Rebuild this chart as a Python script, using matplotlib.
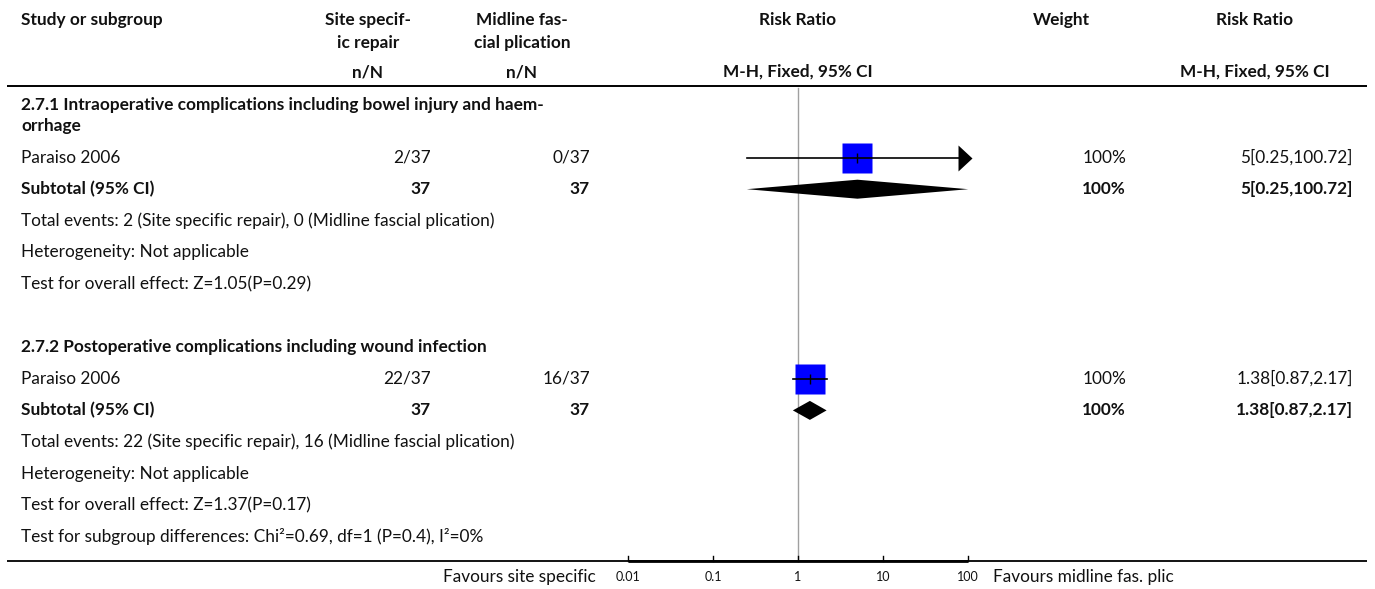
import matplotlib.pyplot as plt

plt.rcParams['font.family'] = ['Lato', 'DejaVu Sans']

# subgroup data
group_titles = [
    ["2.7.1 Intraoperative complications including bowel injury and haem-", "orrhage"],
    ["2.7.2 Postoperative complications including wound infection"],
]
study_names = ["Paraiso 2006", "Paraiso 2006"]
site_events = ["2/37", "22/37"]
midline_events = ["0/37", "16/37"]
site_total = [37, 37]
midline_total = [37, 37]
rr = [5, 1.38]
rr_lo = [0.25, 0.87]
rr_hi = [100.72, 2.17]
weights = ["100%", "100%"]
total_events = [
    "Total events: 2 (Site specific repair), 0 (Midline fascial plication)",
    "Total events: 22 (Site specific repair), 16 (Midline fascial plication)",
]
heterogeneity = ["Heterogeneity: Not applicable", "Heterogeneity: Not applicable"]
overall_effect = ["Test for overall effect: Z=1.05(P=0.29)",
                  "Test for overall effect: Z=1.37(P=0.17)"]
subgroup_test = "Test for subgroup differences: Chi\u00b2=0.69, df=1 (P=0.4), I\u00b2=0%"
ticks = [0.01, 0.1, 1, 10, 100]
tick_labels = ["0.01", "0.1", "1", "10", "100"]

W, H = 1375, 589
fig = plt.figure(figsize=(W / 100, H / 100), dpi=100)
ax = fig.add_axes([0, 0, 1, 1])
ax.set_xlim(0, W)
ax.set_ylim(H, 0)
ax.axis('off')

# forest panel: log scale from 0.01 to 100
x0, x1 = 628, 968
fa = fig.add_axes([x0 / W, 0, (x1 - x0) / W, 1])
fa.set_xscale('log')
fa.set_xlim(0.01, 100)
fa.set_ylim(H, 0)
fa.axis('off')

fs = 12.4
tc = '#111111'
col_left = 21
col_site_c, col_site_r = 368, 431
col_mid_c, col_mid_r = 522, 590
col_w_c, col_w_r = 1061, 1126
col_rr_c, col_rr_r = 1255, 1353

# header
hy1, hy2, hy3 = 20, 43, 72
bold = dict(fontsize=fs, weight='bold', color=tc, va='center')
ax.text(col_left, hy1, "Study or subgroup", **bold)
ax.text(col_site_c, hy1, "Site specif-", ha='center', **bold)
ax.text(col_site_c, hy2, "ic repair", ha='center', **bold)
ax.text(col_mid_c, hy1, "Midline fas-", ha='center', **bold)
ax.text(col_mid_c, hy2, "cial plication", ha='center', **bold)
ax.text(col_site_c, hy3, "n/N", ha='center', **bold)
ax.text(col_mid_c, hy3, "n/N", ha='center', **bold)
ax.text(798, hy1, "Risk Ratio", ha='center', **bold)
ax.text(798, hy3, "M-H, Fixed, 95% CI", ha='center', **bold)
ax.text(col_w_c, hy1, "Weight", ha='center', **bold)
ax.text(col_rr_c, hy1, "Risk Ratio", ha='center', **bold)
ax.text(col_rr_c, hy3, "M-H, Fixed, 95% CI", ha='center', **bold)
ax.plot([7, 1367], [86, 86], color='black', lw=1.4, solid_capstyle='butt')

# line of no effect
fa.plot([1, 1], [88, 561], color='#a0a0a0', lw=1, zorder=1)

step = 31.6
y = 105
for g in range(len(group_titles)):
    for k, line in enumerate(group_titles[g]):
        ax.text(col_left, y + 21 * k, line, **bold)
    y += step + 21 * (len(group_titles[g]) - 1)

    # study row
    ax.text(col_left, y, study_names[g], fontsize=fs, color=tc, va='center')
    ax.text(col_site_r, y, site_events[g], fontsize=fs, color=tc, va='center', ha='right')
    ax.text(col_mid_r, y, midline_events[g], fontsize=fs, color=tc, va='center', ha='right')
    ax.text(col_w_r, y, weights[g], fontsize=fs, color=tc, va='center', ha='right')
    ax.text(col_rr_r, y, f"{rr[g]:g}[{rr_lo[g]:g},{rr_hi[g]:g}]", fontsize=fs, color=tc,
            va='center', ha='right')
    hi = min(rr_hi[g], 100)
    fa.plot(rr[g], y, marker='s', ms=22.3, color='#0000ff', mec='none', zorder=2, clip_on=False)
    fa.plot([rr_lo[g], hi], [y, y], color='black', lw=1.2, zorder=3, clip_on=False)
    fa.plot(rr[g], y, marker='|', ms=7, mew=1, color='black', zorder=3, clip_on=False)
    if rr_hi[g] > 100:
        fa.plot(hi, y, marker=[(4, 0), (-10, 13), (-10, -13), (4, 0)], ms=18.7,
                color='black', mec='none', zorder=3, clip_on=False)
    y += step

    # subtotal row
    ax.text(col_left, y, "Subtotal (95% CI)", **bold)
    ax.text(col_site_r, y, str(site_total[g]), ha='right', **bold)
    ax.text(col_mid_r, y, str(midline_total[g]), ha='right', **bold)
    ax.text(col_w_r, y, weights[g], ha='right', **bold)
    ax.text(col_rr_r, y, f"{rr[g]:g}[{rr_lo[g]:g},{rr_hi[g]:g}]", ha='right', **bold)
    fa.fill([rr_lo[g], rr[g], rr_hi[g], rr[g]], [y, y - 9.5, y, y + 9.5], color='black',
            lw=0, zorder=3, clip_on=False)
    y += step

    for line in (total_events[g], heterogeneity[g], overall_effect[g]):
        ax.text(col_left, y, line, fontsize=fs, color=tc, va='center')
        y += step
    if g < len(group_titles) - 1:
        y += step

ax.text(col_left, y, subgroup_test, fontsize=fs, color=tc, va='center')

# bottom axis
ax.plot([7, 1367], [561, 561], color='black', lw=1.3, solid_capstyle='butt')
fa.plot([0.01, 100], [561, 561], color='black', lw=2, solid_capstyle='butt', clip_on=False)
for t, lab in zip(ticks, tick_labels):
    fa.plot([t, t], [561, 556], color='black', lw=1, clip_on=False)
    fa.text(t, 577, lab, fontsize=9, color=tc, ha='center', va='center')
ax.text(596, 577, "Favours site specific", fontsize=fs, color=tc, ha='right', va='center')
ax.text(993, 577, "Favours midline fas. plic", fontsize=fs, color=tc, ha='left', va='center')

fig.savefig('out.png', dpi=100)
